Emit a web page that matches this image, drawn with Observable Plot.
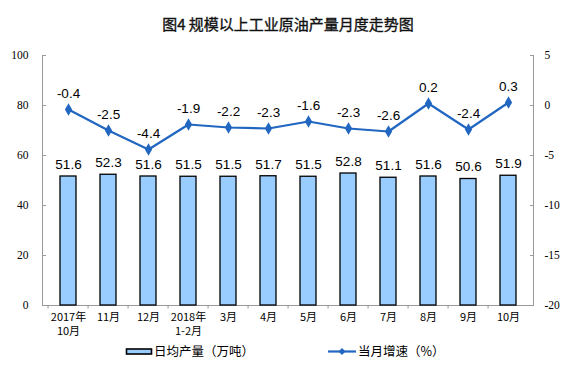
<!DOCTYPE html>
<html><head><meta charset="utf-8">
<script src="https://cdn.jsdelivr.net/npm/d3@7"></script>
<script src="https://cdn.jsdelivr.net/npm/@observablehq/plot@0.6"></script>
<style>
body{margin:0;background:#fff;width:576px;height:384px;overflow:hidden;font-family:"Noto Sans CJK SC",sans-serif}
#title{height:40px;line-height:48px;text-align:center;font-size:15px;font-weight:normal;color:#111;-webkit-text-stroke:0.35px #111}
#chart svg{display:block}
#legend{height:44px}
#legend svg{display:block}
</style></head><body>
<div id="title">图4 规模以上工业原油产量月度走势图</div>
<div id="chart"></div>
<div id="legend">
<svg width="576" height="44" xmlns="http://www.w3.org/2000/svg">
  <rect x="126.5" y="9" width="25" height="5" fill="#99CCFF" stroke="#000" stroke-width="1.6"/>
  <text x="154" y="16" font-size="12.5" font-family="Noto Sans CJK SC" fill="#000">日均产量（万吨）</text>
  <line x1="328" y1="11.5" x2="356" y2="11.5" stroke="#2166C0" stroke-width="2.2"/>
  <path d="M342,8 L345.5,11.5 L342,15 L338.5,11.5 Z" fill="#2166C0"/>
  <text x="358" y="16" font-size="12.5" font-family="Noto Sans CJK SC" fill="#000">当月增速（%）</text>
</svg>
</div>
<script>
const categories = ["2017年\n10月","11月","12月","2018年\n1-2月","3月","4月","5月","6月","7月","8月","9月","10月"];
const output = [51.6, 52.3, 51.6, 51.5, 51.5, 51.7, 51.5, 52.8, 51.1, 51.6, 50.6, 51.9];
const growth = [-0.4, -2.5, -4.4, -1.9, -2.2, -2.3, -1.6, -2.3, -2.6, 0.2, -2.4, 0.3];
const leftTicks = [0, 20, 40, 60, 80, 100];
const rightTicks = [-20, -15, -10, -5, 0, 5];
const toLeft = v => (v + 20) * 4; // right-axis value on left scale
const data = categories.map((c, i) => ({c, output: output[i], growth: growth[i]}));

const serif = "'Liberation Serif','Times New Roman',serif";
const sans = "'Liberation Sans',Arial,sans-serif";
const cjk = "'Noto Sans CJK SC',sans-serif";
const axisColor = "#9a9a9a";
const lineColor = "#2166C0";

const plot = Plot.plot({
  width: 576, height: 300,
  marginTop: 15, marginBottom: 35, marginLeft: 42, marginRight: 43,
  style: {background: "#fff", color: "#000"},
  x: {domain: categories, paddingInner: 0.6, paddingOuter: 0.3, axis: null},
  y: {domain: [0, 100], axis: null},
  marks: [
    Plot.frame({anchor: "left", stroke: axisColor}),
    Plot.frame({anchor: "right", stroke: axisColor}),
    Plot.frame({anchor: "bottom", stroke: axisColor}),
    Plot.axisY({anchor: "left", label: null, ticks: leftTicks, tickSize: 4, dx: 4, tickFormat: () => "", stroke: axisColor}),
    Plot.axisY({anchor: "left", label: null, ticks: leftTicks, tickSize: 0, tickPadding: 14, fontSize: 11.5, fontFamily: serif}),
    Plot.axisY({anchor: "right", label: null, ticks: rightTicks.map(toLeft), tickSize: 4, dx: -4, tickFormat: () => "", stroke: axisColor}),
    Plot.axisY({anchor: "right", label: null, ticks: rightTicks.map(toLeft), tickSize: 0, tickPadding: 11, fontSize: 11.5, fontFamily: serif, tickFormat: (d, i) => String(rightTicks[i])}),
    Plot.axisX({label: null, tickSize: 0, tickPadding: 5, fontSize: 11, lineHeight: 1.3, fontFamily: cjk}),
    Plot.ruleX(categories, {x: d => d, y1: 0, y2: -1.4, dx: -20.45, stroke: axisColor}),
    Plot.barY(data, {x: "c", y: "output", fill: "#99CCFF", stroke: "#000", strokeWidth: 1.3}),
    Plot.text(data, {x: "c", y: "output", text: d => d.output.toFixed(1), dy: -12, fontSize: 13.5, fontFamily: sans}),
    Plot.line(data, {x: "c", y: d => toLeft(d.growth), stroke: lineColor, strokeWidth: 2.2}),
    Plot.dot(data, {x: "c", y: d => toLeft(d.growth), symbol: "diamond", r: 3.8, fill: lineColor}),
    Plot.text(data, {x: "c", y: d => toLeft(d.growth), text: d => d.growth.toFixed(1), dy: -16, fontSize: 13.5, fontFamily: sans})
  ]
});
document.getElementById("chart").appendChild(plot);
</script>
</body></html>
